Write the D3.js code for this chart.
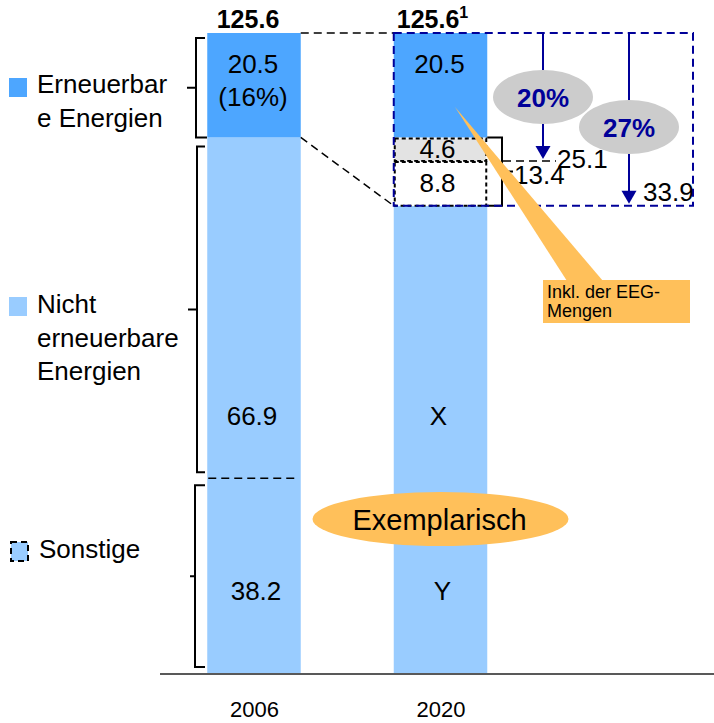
<!DOCTYPE html>
<html>
<head>
<meta charset="utf-8">
<script src="https://cdn.jsdelivr.net/npm/d3@7"></script>
<style>
  html, body { margin: 0; padding: 0; background: #fff; }
  svg { display: block; font-family: "Liberation Sans", Arial, sans-serif; }
</style>
</head>
<body>
<svg id="chart" width="714" height="723"></svg>
<script>
// ---- data ----
const years = ["2006", "2020"];
const totals = [125.6, 125.6];
const totalLabels = ["125.6", "125.6"];
const renewable = [20.5, 20.5];            // Erneuerbare Energien
const renewableShare = ["(16%)", null];
const nonRenewable = [66.9, null];         // Nicht erneuerbare Energien
const nonRenewableLabels = ["66.9", "X"];
const other = [38.2, null];                // Sonstige
const otherLabels = ["38.2", "Y"];
const eegParts = [4.6, 8.8];               // zusätzliche Mengen 2020
const eegSum = 13.4;
const targetLevels = [25.1, 33.9];
const targetShares = ["20%", "27%"];

// ---- colours ----
const C = {
  dark: "#4da6ff",
  light: "#99ccff",
  grey: "#e3e3e3",
  navy: "#000099",
  oval: "#cccccc",
  orange: "#ffc05a"
};

const svg = d3.select("#chart");

const y = d3.scaleLinear().domain([0, 125.6]).range([673, 33]);
const x = d3.scalePoint().domain(years).range([254, 440.5]);
const barW = 93.5;
const left = yr => x(yr) - barW / 2;
const right = yr => x(yr) + barW / 2;

const rest2020 = totals[1] - renewable[1] - d3.sum(eegParts);
const base2006 = nonRenewable[0] + other[0];

// ---- bars ----
const gBars = svg.append("g");
// light lower part
gBars.selectAll("rect.low").data(years).join("rect")
  .attr("x", d => left(d))
  .attr("width", barW)
  .attr("y", (d, i) => y(i === 0 ? base2006 : rest2020))
  .attr("height", (d, i) => y(0) - y(i === 0 ? base2006 : rest2020))
  .attr("fill", C.light);
// renewable top part
gBars.selectAll("rect.top").data(years).join("rect")
  .attr("x", d => left(d))
  .attr("width", barW)
  .attr("y", (d, i) => y(totals[i]))
  .attr("height", (d, i) => y(totals[i] - renewable[i]) - y(totals[i]))
  .attr("fill", C.dark);

// 2020 additional segments (dotted boxes)
let cum = totals[1] - renewable[1];
const eegBoxes = eegParts.map((v, i) => {
  const top = cum; cum -= v;
  return { top, bottom: cum, v, fill: i === 0 ? C.grey : "#ffffff" };
});
gBars.selectAll("rect.eeg").data(eegBoxes).join("rect")
  .attr("x", left("2020") + 1)
  .attr("width", barW - 2)
  .attr("y", d => y(d.top) + 1)
  .attr("height", d => y(d.bottom) - y(d.top) - 1)
  .attr("fill", d => d.fill)
  .attr("stroke", "#000")
  .attr("stroke-width", 2)
  .attr("stroke-dasharray", "4,3");

// 2006 separator between "Nicht erneuerbar" and "Sonstige"
svg.append("line")
  .attr("x1", left("2006") + 1).attr("x2", right("2006") - 3)
  .attr("y1", y(other[0])).attr("y2", y(other[0]))
  .attr("stroke", "#000").attr("stroke-width", 1.5)
  .attr("stroke-dasharray", "8,5");

// ---- axis ----
svg.append("line")
  .attr("x1", 160).attr("x2", 714)
  .attr("y1", y(0) + 1).attr("y2", y(0) + 1)
  .attr("stroke", "#222").attr("stroke-width", 1.5);

const axis = svg.append("g")
  .attr("transform", `translate(0,${y(0)})`)
  .call(d3.axisBottom(x).tickSize(0).tickPadding(28));
axis.select(".domain").remove();
axis.selectAll("text")
  .attr("font-size", 22)
  .attr("font-family", "Liberation Sans, Arial, sans-serif")
  .attr("fill", "#000");

// ---- connectors from 2006 to 2020 ----
const yTop = y(totals[0]);
const yRen = y(totals[0] - renewable[0]);
const y2020Bottom = y(totals[1] - targetLevels[1]);
svg.append("line")
  .attr("x1", right("2006")).attr("y1", yTop)
  .attr("x2", left("2020")).attr("y2", yTop)
  .attr("stroke", "#000").attr("stroke-width", 1.5).attr("stroke-dasharray", "8,5");
svg.append("line")
  .attr("x1", right("2006")).attr("y1", yRen)
  .attr("x2", left("2020")).attr("y2", y2020Bottom)
  .attr("stroke", "#000").attr("stroke-width", 1.5).attr("stroke-dasharray", "8,5");

// ---- brackets ----
function bracket(xv, y1, y2, endX1, endX2, tickX, tickY) {
  const p = d3.path();
  p.moveTo(endX1, y1); p.lineTo(xv, y1); p.lineTo(xv, y2); p.lineTo(endX2, y2);
  p.moveTo(xv, tickY); p.lineTo(tickX, tickY);
  svg.append("path").attr("d", p.toString())
    .attr("fill", "none").attr("stroke", "#000").attr("stroke-width", 2);
}
// Erneuerbare (2006)
bracket(196, yTop + 5, yRen, 205, 207, 187, (yTop + 5 + yRen) / 2);
// Nicht erneuerbare (2006)
const ySplit = y(other[0]);
bracket(197, yRen + 9, ySplit - 6, 205, 205, 188, (yRen + 9 + ySplit - 6) / 2);
// Sonstige (2006)
bracket(195, ySplit + 7, y(0) - 6, 205, 205, 190, (ySplit + 7 + y(0) - 6) / 2);
// Zusatzmengen 2020 (13.4)
const yE1 = y(eegBoxes[0].top), yE2 = y(eegBoxes[1].bottom);
bracket(502, yE1, yE2, right("2020"), right("2020"), 513, (yE1 + yE2) / 2);

// ---- target frame with arrows ----
svg.append("rect")
  .attr("x", left("2020")).attr("y", yTop)
  .attr("width", 693 - left("2020")).attr("height", y2020Bottom - yTop)
  .attr("fill", "none").attr("stroke", C.navy).attr("stroke-width", 2)
  .attr("stroke-dasharray", "8,5");

// dashed level line for 25.1
const yL1 = y(totals[1] - targetLevels[0]);
svg.append("line")
  .attr("x1", 503).attr("x2", 556).attr("y1", yL1).attr("y2", yL1)
  .attr("stroke", "#000").attr("stroke-width", 1.5).attr("stroke-dasharray", "8,5");

const arrowX = [543, 629];
const arrowOvalY = [97, 127];
targetLevels.forEach((lv, i) => {
  const yEnd = y(totals[1] - lv);
  svg.append("line")
    .attr("x1", arrowX[i]).attr("x2", arrowX[i])
    .attr("y1", yTop).attr("y2", yEnd - 12)
    .attr("stroke", C.navy).attr("stroke-width", 2);
  svg.append("path")
    .attr("d", `M${arrowX[i] - 7.5},${yEnd - 15} L${arrowX[i] + 7.5},${yEnd - 15} L${arrowX[i]},${yEnd - 2} Z`)
    .attr("fill", C.navy);
  svg.append("ellipse")
    .attr("cx", arrowX[i]).attr("cy", arrowOvalY[i])
    .attr("rx", 50).attr("ry", 27)
    .attr("fill", C.oval);
  svg.append("text")
    .attr("x", arrowX[i]).attr("y", arrowOvalY[i] + 9.5)
    .attr("text-anchor", "middle")
    .attr("font-size", 26).attr("font-weight", "bold")
    .attr("fill", C.navy)
    .text(targetShares[i]);
});

// ---- value labels ----
const T = (xv, yv, txt, size = 26, anchor = "middle", weight = "normal") =>
  svg.append("text").attr("x", xv).attr("y", yv)
    .attr("text-anchor", anchor).attr("font-size", size)
    .attr("font-weight", weight).attr("fill", "#000").text(txt);

// totals
T(x("2006") - 6, 28, totalLabels[0], 25, "middle", "bold");
const t2 = T(x("2020") - 8, 28, totalLabels[1], 25, "middle", "bold");
t2.append("tspan").attr("font-size", 16).attr("dy", -10).text("1");

// renewable values
years.forEach((yr, i) => {
  T(x(yr) - 1, yTop + 40, renewable[i].toFixed(1));
  if (renewableShare[i]) T(x(yr) - 1, yTop + 73, renewableShare[i]);
});

// 2020 extra values
eegBoxes.forEach(b => {
  T(x("2020") - 3, (y(b.top) + y(b.bottom)) / 2 + 9, b.v.toFixed(1));
});

// lower part labels
years.forEach((yr, i) => {
  T(x(yr) - 2, ySplit - 53, nonRenewableLabels[i]);
  T(x(yr) + 2, y(other[0] / 2) + 24, otherLabels[i]);
});

// level values beside the frame
T(514, (yE1 + yE2) / 2 + 12, eegSum.toFixed(1), 26, "start");
T(557, yL1 + 7, targetLevels[0].toFixed(1), 26, "start");
T(643, y2020Bottom - 5, targetLevels[1].toFixed(1), 26, "start");

// ---- "Exemplarisch" badge ----
svg.append("ellipse")
  .attr("cx", x("2020")).attr("cy", 519)
  .attr("rx", 128).attr("ry", 27)
  .attr("fill", C.orange);
T(x("2020") - 1, 530, "Exemplarisch", 29);

// ---- EEG callout ----
svg.append("path")
  .attr("d", "M455,107 L567,281 L603,281 Z")
  .attr("fill", C.orange);
svg.append("rect")
  .attr("x", 543).attr("y", 280).attr("width", 147).attr("height", 43)
  .attr("fill", C.orange);
const ct = svg.append("text").attr("font-size", 18).attr("fill", "#000");
ct.append("tspan").attr("x", 547).attr("y", 298).text("Inkl. der EEG-");
ct.append("tspan").attr("x", 547).attr("y", 317).text("Mengen");

// ---- legend ----
const legendItems = [
  { lines: ["Erneuerbar", "e Energien"], fill: C.dark, sq: [9, 78, 18, 19], ty: 93, tx: 37, dashed: false },
  { lines: ["Nicht", "erneuerbare", "Energien"], fill: C.light, sq: [9, 297, 18, 19], ty: 313, tx: 37, dashed: false },
  { lines: ["Sonstige"], fill: C.light, sq: [11, 542, 17, 19], ty: 558, tx: 39, dashed: true }
];
const lg = svg.append("g");
legendItems.forEach(it => {
  lg.append("rect")
    .attr("x", it.sq[0]).attr("y", it.sq[1])
    .attr("width", it.sq[2]).attr("height", it.sq[3])
    .attr("fill", it.fill)
    .attr("stroke", it.dashed ? "#000" : "none")
    .attr("stroke-width", 2)
    .attr("stroke-dasharray", it.dashed ? "6,4" : null);
  const t = lg.append("text").attr("font-size", 26).attr("fill", "#000");
  it.lines.forEach((l, k) => {
    t.append("tspan").attr("x", it.tx).attr("y", it.ty + k * 33.5).text(l);
  });
});
</script>
</body>
</html>
